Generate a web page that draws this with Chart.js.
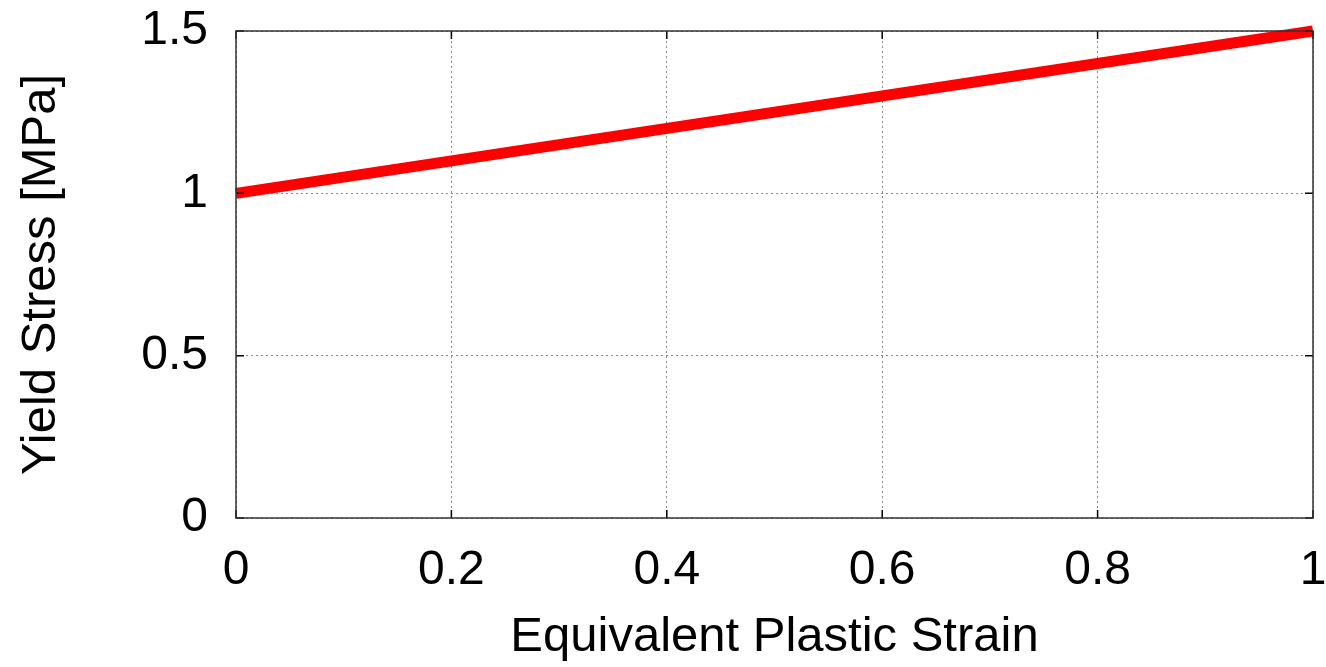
<!DOCTYPE html>
<html>
<head>
<meta charset="utf-8">
<script src="https://cdn.jsdelivr.net/npm/chart.js@4.4.1/dist/chart.umd.min.js"></script>
<style>
  html, body { margin: 0; padding: 0; background: #fff; }
  #wrap { width: 1326px; height: 667px; }
</style>
</head>
<body>
<div id="wrap"><canvas id="grafico"></canvas></div>
<script>
// datos
const deformacion = [0, 1];
const tension = [1.0, 1.5];
const ticksX = [0, 0.2, 0.4, 0.6, 0.8, 1];
const ticksY = [0, 0.5, 1, 1.5];

const fuente = "'Liberation Sans', Arial, sans-serif";

// marcas de los ticks hacia adentro, en los cuatro lados
const marcasInternas = {
    id: 'marcasInternas',
    afterDraw(chart) {
        const ctx = chart.ctx;
        const area = chart.chartArea;
        const sx = chart.scales.x;
        const sy = chart.scales.y;
        const largo = 8;
        ctx.save();
        ctx.strokeStyle = '#000';
        ctx.lineWidth = 1.5;
        ctx.beginPath();
        ticksX.forEach(v => {
            const px = sx.getPixelForValue(v);
            ctx.moveTo(px, area.bottom); ctx.lineTo(px, area.bottom - largo);
            ctx.moveTo(px, area.top); ctx.lineTo(px, area.top + largo);
        });
        ticksY.forEach(v => {
            const py = sy.getPixelForValue(v);
            ctx.moveTo(area.left, py); ctx.lineTo(area.left + largo, py);
            ctx.moveTo(area.right, py); ctx.lineTo(area.right - largo, py);
        });
        ctx.stroke();
        ctx.strokeStyle = '#333';
        ctx.strokeRect(area.left, area.top, area.right - area.left, area.bottom - area.top);
        ctx.restore();
    }
};

const ctx = document.getElementById('grafico').getContext('2d');
const myChart = new Chart(ctx, {
    type: 'line',
    data: {
        datasets: [{
            label: 'Yield Stress',
            data: deformacion.map((x, i) => ({ x: x, y: tension[i] })),
            borderColor: '#ff0000',
            borderWidth: 11,
            pointRadius: 0,
            fill: false,
            clip: false
        }]
    },
    options: {
        responsive: true,
        maintainAspectRatio: false,
        animation: false,
        layout: { padding: { top: 31, right: 13, bottom: 0, left: 0 } },
        plugins: {
            legend: { display: false },
            tooltip: { enabled: false }
        },
        scales: {
            x: {
                type: 'linear',
                min: 0,
                max: 1,
                afterBuildTicks: s => { s.ticks = ticksX.map(v => ({ value: v })); },
                afterFit: s => {
                    s.height = 149;
                    s.paddingLeft = 0;
                    s.paddingRight = 0;
                },
                grid: {
                    color: '#888',
                    lineWidth: 1,
                    drawTicks: false
                },
                border: { display: false, dash: [2, 3] },
                ticks: {
                    color: '#000',
                    padding: 24,
                    maxRotation: 0,
                    font: { family: fuente, size: 48 },
                    callback: v => String(v)
                },
                title: {
                    display: true,
                    text: 'Equivalent Plastic Strain',
                    color: '#000',
                    padding: { top: 24, bottom: 0 },
                    font: { family: fuente, size: 49 }
                }
            },
            y: {
                type: 'linear',
                min: 0,
                max: 1.5,
                afterBuildTicks: s => { s.ticks = ticksY.map(v => ({ value: v })); },
                afterFit: s => {
                    s.width = 236;
                    s.paddingTop = 0;
                    s.paddingBottom = 0;
                },
                grid: {
                    color: '#888',
                    lineWidth: 1,
                    drawTicks: false
                },
                border: { display: false, dash: [2, 3] },
                ticks: {
                    color: '#000',
                    padding: 28,
                    font: { family: fuente, size: 48 },
                    callback: v => String(v)
                },
                title: {
                    display: true,
                    text: 'Yield Stress [MPa]',
                    color: '#000',
                    padding: { top: 12, bottom: 0 },
                    font: { family: fuente, size: 49 }
                }
            }
        }
    },
    plugins: [marcasInternas]
});
</script>
</body>
</html>
